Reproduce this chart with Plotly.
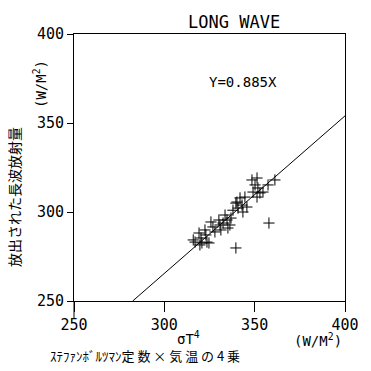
import plotly.graph_objects as go

# data
x_vals = [316.0, 317.0, 319.2, 320.3, 320.8, 319.7, 322.5, 323.0, 323.6, 324.7,
          325.8, 326.9, 328.0, 330.2, 330.8, 331.3, 332.5, 333.6, 334.7, 336.3,
          336.9, 335.2, 338.0, 339.6, 340.2, 341.9, 343.0, 344.6, 345.7, 340.8,
          343.5, 348.5, 351.3, 350.2, 351.8, 349.1, 352.9, 354.6, 351.3, 357.4,
          361.2, 357.9, 339.6]
y_vals = [284.3, 283.1, 288.2, 285.4, 282.6, 281.5, 289.9, 287.1, 283.1, 282.6,
          294.4, 291.6, 288.8, 295.5, 292.7, 289.9, 293.8, 298.3, 295.5, 292.7,
          296.6, 291.0, 301.0, 305.0, 305.6, 307.9, 303.9, 308.4, 302.8, 302.2,
          300.0, 318.0, 319.1, 315.2, 313.5, 311.2, 310.7, 311.2, 308.4, 315.2,
          318.0, 293.8, 279.8]
SLOPE = 0.885
AXIS_MIN, AXIS_MAX = 250, 400
tick_vals = [250, 300, 350, 400]

line_x = [AXIS_MIN / SLOPE, AXIS_MAX]
line_y = [SLOPE * v for v in line_x]

MONO = "DejaVu Sans Mono"

fig = go.Figure()
fig.add_trace(go.Scatter(x=line_x, y=line_y, mode="lines",
                         line=dict(color="black", width=1), hoverinfo="skip"))
fig.add_trace(go.Scatter(x=x_vals, y=y_vals, mode="markers",
                         marker=dict(symbol="cross-thin-open", size=8, color="black",
                                     line=dict(color="black", width=1))))

fig.update_layout(
    width=371, height=371,
    margin=dict(l=74, r=26, t=34, b=70),
    paper_bgcolor="white", plot_bgcolor="white",
    showlegend=False,
    font=dict(family=MONO, color="black"),
)
fig.update_xaxes(range=[AXIS_MIN, AXIS_MAX], tickvals=tick_vals,
                 ticks="outside", ticklen=10, tickcolor="black", tickwidth=1,
                 showline=True, linecolor="black", linewidth=1, mirror=True,
                 showgrid=False, zeroline=False,
                 tickfont=dict(family=MONO, size=15, color="black"))
fig.update_yaxes(range=[AXIS_MIN, AXIS_MAX], tickvals=tick_vals,
                 ticks="outside", ticklen=6, tickcolor="black", tickwidth=1,
                 showline=True, linecolor="black", linewidth=1, mirror=True,
                 showgrid=False, zeroline=False,
                 tickfont=dict(family=MONO, size=15, color="black"))

# extension of the left axis below the plot
fig.add_shape(type="line", xref="paper", yref="paper", x0=0, x1=0, y0=0, y1=-0.065,
              line=dict(color="black", width=1))

ann = [
    dict(text="LONG WAVE", x=234, y=22, size=17),
    dict(text="Y=0.885X", x=243, y=82, size=14),
    dict(text="σT<sup>4</sup>", x=188, y=338, size=14),
    dict(text="(W/M<sup>2</sup>)", x=318, y=340, size=14),
]
for a in ann:
    fig.add_annotation(text=a["text"], xref="paper", yref="paper",
                       x=(a["x"] - 74) / 271, y=(301 - a["y"]) / 267,
                       xanchor="center", yanchor="middle", showarrow=False,
                       font=dict(family=MONO, size=a["size"], color="black"))

fig.add_annotation(text="ｽﾃﾌｧﾝﾎﾞﾙﾂﾏﾝ定 数 × 気 温 の 4 乗",
                   xref="paper", yref="paper",
                   x=(145 - 74) / 271, y=(301 - 355) / 267,
                   xanchor="center", yanchor="middle", showarrow=False,
                   font=dict(family="Noto Sans CJK JP", size=13, color="black"))
fig.add_annotation(text="放出された長波放射量", textangle=-90,
                   xref="paper", yref="paper",
                   x=(14 - 74) / 271, y=(301 - 197) / 267,
                   xanchor="center", yanchor="middle", showarrow=False,
                   font=dict(family="Noto Sans CJK JP", size=14, color="black"))
fig.add_annotation(text="(W/M<sup>2</sup>)", textangle=-90,
                   xref="paper", yref="paper",
                   x=(40 - 74) / 271, y=(301 - 84) / 267,
                   xanchor="center", yanchor="middle", showarrow=False,
                   font=dict(family=MONO, size=14, color="black"))

fig.write_html("out.html")
